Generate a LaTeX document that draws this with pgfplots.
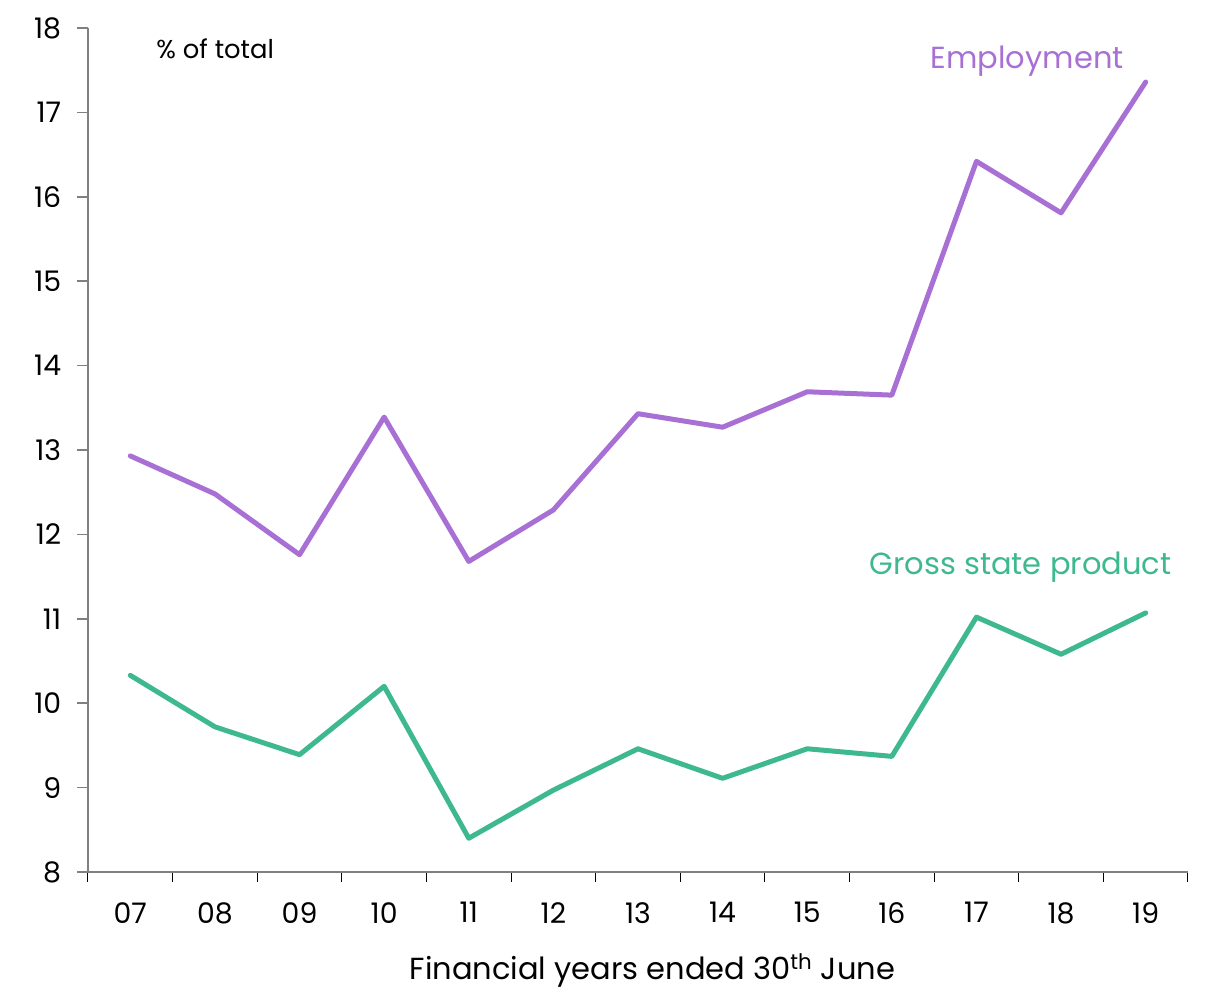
\documentclass[border=0pt]{standalone}
\usepackage{fontspec}
\setmainfont{Poppins}
\usepackage{pgfplots}
\pgfplotsset{compat=1.18}
\definecolor{emp}{RGB}{168,112,212}
\definecolor{gsp}{RGB}{62,185,143}
\definecolor{axgray}{RGB}{128,128,128}
\begin{document}
\begin{tikzpicture}[x=0.6pt,y=0.6pt]
\path[use as bounding box] (-88,-117) rectangle (1117,872);
\begin{axis}[
  at={(0,0)}, anchor=south west,
  scale only axis, width=660pt, height=506.4pt,
  xmin=-0.5, xmax=12.5, ymin=8, ymax=18,
  axis x line*=bottom, axis y line*=left,
  axis line style={draw=axgray, line width=0.9pt},
  every outer x axis line/.append style={-}, every outer y axis line/.append style={-},
  xtick={0,...,12},
  xticklabels={07,08,09,10,11,12,13,14,15,16,17,18,19},
  major x tick style={draw=none},
  minor xtick={-0.5,0.5,...,12.5},
  minor tick length=6pt,
  minor x tick style={draw=black, line width=0.6pt},
  ytick={8,...,18},
  tick align=outside,
  major tick length=6.6pt,
  y tick style={draw=axgray, line width=0.9pt},
  tick label style={font=\fontsize{17}{19}\selectfont, text=black},
  /pgf/number format/assume math mode=true,
  xticklabel style={yshift=-8pt},
  yticklabel style={xshift=-6pt},
  clip=false,
]
\addplot[emp, line width=3pt, line join=round, line cap=round] coordinates {
(0,12.93) (1,12.48) (2,11.76) (3,13.39) (4,11.68) (5,12.29) (6,13.43) (7,13.27) (8,13.69) (9,13.65) (10,16.42) (11,15.81) (12,17.36)};
\addplot[gsp, line width=3pt, line join=round, line cap=round] coordinates {
(0,10.33) (1,9.72) (2,9.39) (3,10.20) (4,8.40) (5,8.97) (6,9.46) (7,9.11) (8,9.46) (9,9.37) (10,11.02) (11,10.58) (12,11.07)};
\node[text=emp, font=\fontsize{18.3}{20}\selectfont] at (axis cs:10.6,17.61) {Employment};
\node[text=gsp, font=\fontsize{18.3}{20}\selectfont] at (axis cs:10.52,11.61) {Gross state product};
\node[anchor=west, inner sep=0pt, font=\fontsize{15.5}{17}\selectfont] at (axis cs:0.304,17.75) {\% of total};
\node[font=\fontsize{18.3}{20}\selectfont] at (axis description cs:0.513,-0.117) {Financial years ended 30\textsuperscript{th} June};
\end{axis}
\end{tikzpicture}
\end{document}
